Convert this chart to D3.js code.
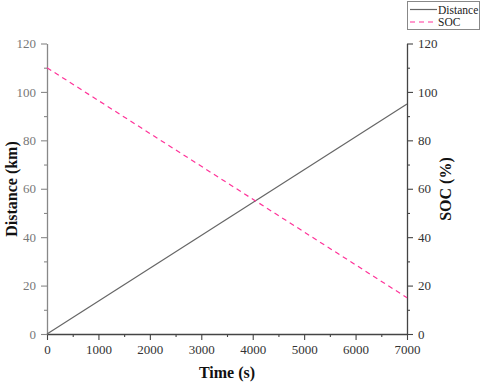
<!DOCTYPE html>
<html>
<head>
<meta charset="utf-8">
<script src="https://cdn.jsdelivr.net/npm/d3@7"></script>
<style>
  body { margin: 0; background: #fff; }
  text { font-family: "Liberation Serif", "DejaVu Serif", serif; }
</style>
</head>
<body>
<svg id="chart" width="480" height="382"></svg>
<script>
// data
const timeSec = [0, 7000];
const distanceKm = [0, 95];
const socPct = [110, 15];
const xTicks = [0, 1000, 2000, 3000, 4000, 5000, 6000, 7000];
const yTicks = [0, 20, 40, 60, 80, 100, 120];
const seriesNames = ["Distance", "SOC"];

const svg = d3.select("#chart");
const plotLeft = 47, plotRight = 407, plotTop = 43.5, plotBottom = 334;

const x = d3.scaleLinear().domain([0, 7000]).range([plotLeft, plotRight]);
const yL = d3.scaleLinear().domain([0, 120]).range([plotBottom, plotTop]);
const yR = d3.scaleLinear().domain([0, 120]).range([plotBottom, plotTop]);

// minor ticks halfway between majors
const xMinor = d3.range(500, 7000, 1000);
const yMinor = d3.range(10, 120, 20);

function drawAxis(g, axisFn, scale, major, minor, color, labelColor) {
  g.call(axisFn(scale).tickValues(major).tickFormat(d3.format("d"))
      .tickSize(6).tickSizeOuter(0).tickPadding(5));
  g.attr("font-family", "Liberation Serif").attr("font-size", 13);
  g.select(".domain").attr("stroke", color).attr("stroke-width", 1.3);
  g.selectAll(".tick line").attr("stroke", color).attr("stroke-width", 1.1);
  g.selectAll(".tick text").attr("fill", labelColor);
  const m = g.append("g");
  m.call(axisFn(scale).tickValues(minor).tickSize(3).tickFormat(""));
  m.select(".domain").remove();
  m.selectAll(".tick line").attr("stroke", color).attr("stroke-width", 1.1);
}

drawAxis(svg.append("g").attr("transform", `translate(0,${plotBottom})`),
  d3.axisBottom, x, xTicks, xMinor, "#444", "#333");
drawAxis(svg.append("g").attr("transform", `translate(${plotLeft},0)`),
  d3.axisLeft, yL, yTicks, yMinor, "#888", "#777");
drawAxis(svg.append("g").attr("transform", `translate(${plotRight},0)`),
  d3.axisRight, yR, yTicks, yMinor, "#444", "#333");

// lines
const distLine = d3.line().x((d, i) => x(timeSec[i])).y(d => yL(d));
const socLine = d3.line().x((d, i) => x(timeSec[i])).y(d => yR(d));

svg.append("path")
    .attr("d", distLine(distanceKm))
    .attr("fill", "none")
    .attr("stroke", "#666")
    .attr("stroke-width", 1.2);

svg.append("path")
    .attr("d", socLine(socPct))
    .attr("fill", "none")
    .attr("stroke", "#ff3399")
    .attr("stroke-width", 1.2)
    .attr("stroke-dasharray", "5,4");

// axis titles
svg.append("text")
    .attr("x", 227).attr("y", 378)
    .attr("text-anchor", "middle")
    .style("font-size", "16px").style("font-weight", "bold")
    .attr("fill", "#111")
    .text("Time (s)");

svg.append("text")
    .attr("transform", `translate(17,189) rotate(-90)`)
    .attr("text-anchor", "middle")
    .style("font-size", "16px").style("font-weight", "bold")
    .attr("fill", "#111")
    .text("Distance (km)");

svg.append("text")
    .attr("transform", `translate(451,189) rotate(-90)`)
    .attr("text-anchor", "middle")
    .style("font-size", "16px").style("font-weight", "bold")
    .attr("fill", "#111")
    .text("SOC (%)");

// legend
const legend = svg.append("g");
legend.append("rect")
    .attr("x", 407.5).attr("y", 1.5)
    .attr("width", 72).attr("height", 28)
    .attr("fill", "#fff").attr("stroke", "#888").attr("stroke-width", 1);

const legendStyles = [
  { stroke: "#666", dash: null },
  { stroke: "#ff3399", dash: "5,4" }
];
seriesNames.forEach((name, i) => {
  const yy = 9.5 + i * 12.5;
  legend.append("line")
      .attr("x1", 410).attr("x2", 437)
      .attr("y1", yy).attr("y2", yy)
      .attr("stroke", legendStyles[i].stroke)
      .attr("stroke-width", 1.2)
      .attr("stroke-dasharray", legendStyles[i].dash);
  legend.append("text")
      .attr("x", 438).attr("y", yy + 4)
      .style("font-size", "11.5px")
      .attr("fill", "#222")
      .text(name);
});
</script>
</body>
</html>
